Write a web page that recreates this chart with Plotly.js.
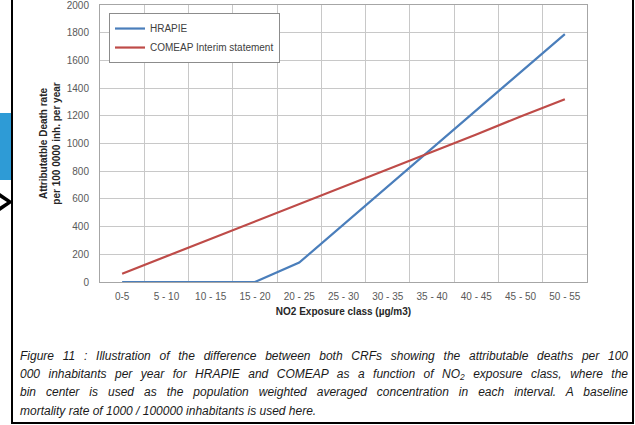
<!DOCTYPE html>
<html>
<head>
<meta charset="utf-8">
<script src="https://cdn.plot.ly/plotly-3.0.1.min.js"></script>
<style>
  html, body { margin: 0; padding: 0; background: #fff; width: 635px; height: 425px; overflow: hidden; }
  #chart { position: absolute; left: 0; top: 0; width: 635px; height: 425px; }
  .overlay { position: absolute; pointer-events: none; }
  #frame { left: 11px; top: -10px; width: 619px; height: 432px;
           border-left: 2px solid #000; border-right: 2px solid #000; border-bottom: 2px solid #000; }
  #tab { left: 0; top: 113px; width: 11px; height: 67px; background: #2e9bd6; }
  #arrow { left: 0; top: 190px; }
  #caption { left: 20px; top: 347px; width: 608px;
             font-family: "Liberation Sans", Arial, sans-serif; font-style: italic;
             font-size: 12px; line-height: 18.2px; color: #1a1a1a; }
  #caption .ln { white-space: nowrap; text-align: justify; text-align-last: justify; }
  #caption .ln.last { text-align-last: left; }
  #caption sub { font-size: 70%; line-height: 0; vertical-align: -2px; }
</style>
</head>
<body>
<div id="chart"></div>
<div id="frame" class="overlay"></div>
<div id="tab" class="overlay"></div>
<svg id="arrow" class="overlay" width="14" height="24" viewBox="0 0 14 24">
  <polygon points="0,3 13,12 0,21" fill="#000"/>
  <polygon points="0,7.5 7,12 0,16.5" fill="#fff"/>
</svg>
<div id="caption" class="overlay">
  <div class="ln">Figure 11 : Illustration of the difference between both CRFs showing the attributable deaths per 100</div>
  <div class="ln">000 inhabitants per year for HRAPIE and COMEAP as a function of NO<sub>2</sub> exposure class, where the</div>
  <div class="ln">bin center is used as the population weighted averaged concentration in each interval. A baseline</div>
  <div class="ln last">mortality rate of 1000 / 100000 inhabitants is used here.</div>
</div>
<script>
// NO2 exposure classes (µg/m3)
const exposureClasses = ['0-5', '5 - 10', '10 - 15', '15 - 20', '20 - 25', '25 - 30',
                         '30 - 35', '35 - 40', '40 - 45', '45 - 50', '50 - 55'];
// Attributable deaths per year for each concentration-response function
const hrapieDeaths = [0, 0, 0, 0, 140, 415, 690, 965, 1240, 1515, 1790];
const comeapDeaths = [60, 185, 310, 440, 565, 690, 815, 940, 1065, 1195, 1320];
const seriesNames = ['HRAPIE', 'COMEAP Interim statement'];
const yTicks = [0, 200, 400, 600, 800, 1000, 1200, 1400, 1600, 1800, 2000];

const FONT = '"Liberation Sans", Arial, sans-serif';

const traces = [
  {
    x: exposureClasses, y: hrapieDeaths, name: seriesNames[0],
    type: 'scatter', mode: 'lines',
    line: { color: '#4a7ebb', width: 2.2 }
  },
  {
    x: exposureClasses, y: comeapDeaths, name: seriesNames[1],
    type: 'scatter', mode: 'lines',
    line: { color: '#be4b48', width: 2.2 }
  }
];

const layout = {
  width: 635, height: 425,
  margin: { l: 100, r: 48, t: 5, b: 143, pad: 0 },
  paper_bgcolor: '#ffffff', plot_bgcolor: '#ffffff',
  font: { family: FONT, size: 10, color: '#595959' },
  showlegend: true,
  legend: {
    x: 0.0185, y: 0.971, xanchor: 'left', yanchor: 'top',
    bgcolor: '#ffffff', bordercolor: '#8c8c8c', borderwidth: 1,
    font: { family: FONT, size: 10, color: '#404040' },
    tracegroupgap: 0
  },
  xaxis: {
    type: 'category', range: [-0.5, 10.5],
    tickson: 'boundaries', ticks: '',
    showgrid: true, gridcolor: '#c8c8c8', gridwidth: 1,
    showline: true, mirror: true, linecolor: '#a6a6a6', linewidth: 1,
    tickfont: { family: FONT, size: 10, color: '#595959' },
    ticklabelstandoff: 5,
    automargin: false,
    title: {
      text: '<b>NO2 Exposure class (µg/m3)</b>',
      font: { family: FONT, size: 10, color: '#262626' },
      standoff: 6
    }
  },
  yaxis: {
    range: [0, 2000], tickmode: 'array', tickvals: yTicks, ticktext: yTicks.map(String),
    ticks: '', ticklabeloverflow: 'allow',
    showgrid: true, gridcolor: '#c8c8c8', gridwidth: 1, zeroline: false,
    showline: true, mirror: true, linecolor: '#a6a6a6', linewidth: 1,
    tickfont: { family: FONT, size: 10, color: '#595959' },
    ticklabelstandoff: 8,
    automargin: false,
    title: {
      text: '<b>Attributatble Death rate</b><br><b>per 100 0000 inh. per year</b>',
      font: { family: FONT, size: 10, color: '#262626' },
      standoff: 4
    }
  }
};

Plotly.newPlot('chart', traces, layout, { displayModeBar: false, staticPlot: true });
</script>
</body>
</html>
